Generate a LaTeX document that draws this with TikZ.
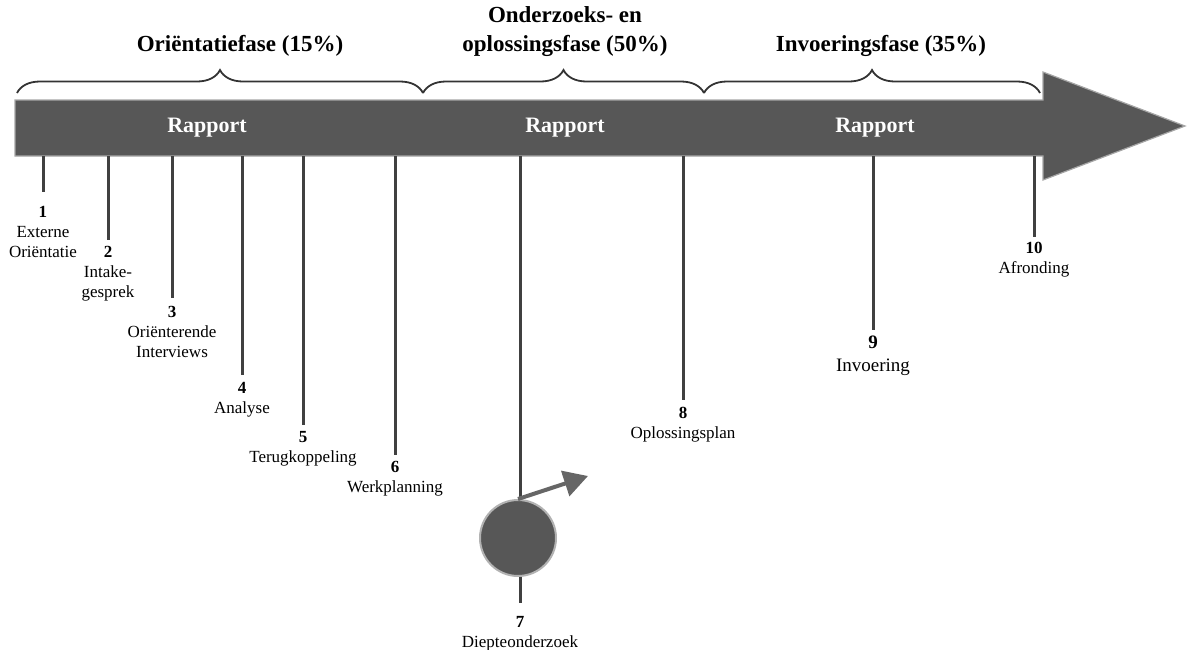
\documentclass[tikz,border=0pt]{standalone}
\usepackage{fontspec}
\setmainfont{Liberation Serif}
\usetikzlibrary{decorations.pathreplacing,arrows.meta}
\begin{document}
\begin{tikzpicture}[x=1pt,y=-1pt,
  title/.style={font=\fontsize{23}{29}\selectfont\bfseries, align=center, inner sep=0pt},
  rap/.style={font=\fontsize{22}{24}\selectfont\bfseries, text=white, inner sep=0pt},
  bigarrow/.style={fill=black!66, draw=black!35, line width=1.2pt},
  bracestyle/.style={draw=black!80, line width=1.8pt, decorate, decoration={brace, amplitude=23pt}},
  tick/.style={draw=black!75, line width=3pt},
  lbl/.style={font=\fontsize{17}{20}\selectfont, align=center, inner sep=0pt, anchor=north},
  blob/.style={circle, minimum size=76pt, inner sep=0pt, fill=black!66, draw=black!30, line width=2pt},
  pointer/.style={draw=black!60, line width=4pt, -{Triangle[length=24pt,width=26pt]}}
]
\useasboundingbox (0,0) rectangle (1187,649);

% big arrow
\path[bigarrow] (15,100) -- (1043,100) -- (1043,72) -- (1185,126) -- (1043,180) -- (1043,156) -- (15,156) -- cycle;

% braces
\draw[bracestyle] (17,93) -- (423,93);
\draw[bracestyle] (423,93) -- (704,93);
\draw[bracestyle] (704,93) -- (1040,93);

% titles
\node[title] (ph1) at (240,46) {Oriëntatiefase (15\%)};
\node[title] (ph2) at (565,32) {Onderzoeks- en\\oplossingsfase (50\%)};
\node[title] (ph3) at (881,46) {Invoeringsfase (35\%)};

% rapport
\node[rap] (r1) at (207,128) {Rapport};
\node[rap] (r2) at (565,128) {Rapport};
\node[rap] (r3) at (875,128) {Rapport};

% ticks and labels
\foreach \i/\x/\ny/\ey/\txt in {
  1/43/212/192/{\textbf{1}\\Externe\\Oriëntatie},
  2/108/252/240/{\textbf{2}\\Intake-\\gesprek},
  3/172/312/298/{\textbf{3}\\Oriënterende\\Interviews},
  4/242/388/375/{\textbf{4}\\Analyse},
  5/303/437/425/{\textbf{5}\\Terugkoppeling},
  6/395/467/455/{\textbf{6}\\Werkplanning},
  7/520/622/603/{\textbf{7}\\Diepteonderzoek},
  8/683/413/400/{\textbf{8}\\Oplossingsplan},
  10/1034/248/237/{\textbf{10}\\Afronding}}{
  \coordinate (b\i) at (\x,156);
  \node[lbl] (l\i) at (\x,\ny-6) {\txt};
  \pgfmathsetmacro{\gap}{\ny-6-\ey}
  \draw[tick, shorten >=\gap pt] (b\i) -- (l\i.north);
}
\coordinate (b9) at (873,156);
\node[lbl, font=\fontsize{19}{23}\selectfont] (l9) at (873,336) {\textbf{9}\\Invoering};
\draw[tick, shorten >=6pt] (b9) -- (l9.north);

% circle with arrow
\node[blob] (c7) at (518,538) {};
\coordinate (p7) at (588,476);
\draw[pointer] (c7.north) -- (p7);
\end{tikzpicture}
\end{document}
